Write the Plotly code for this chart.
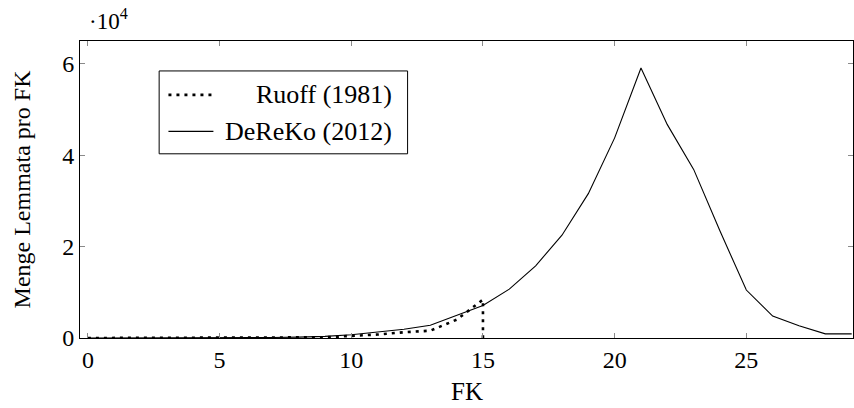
import plotly.graph_objects as go

# ---- data ----
fk = list(range(30))
dereko = [0, 0, 0, 0, 20, 40, 70, 120, 200, 350, 700, 1300, 1900, 2800, 4900,
          7100, 10700, 15800, 22500, 31600, 43800, 59100, 46700, 36900, 23400,
          10500, 4800, 2700, 900, 900]
ruoff_fk = list(range(16)) + [15]
ruoff = [0, 0, 0, 0, 0, 10, 20, 40, 80, 150, 450, 760, 1250, 1600, 4000, 8400, 0]

xticks = [0, 5, 10, 15, 20, 25]
yticks = [0, 20000, 40000, 60000]
yticklabels = ["0", "2", "4", "6"]

FONT = "Liberation Serif"
W, H = 854, 408
L, T = 79.5, 41
R = W - 853
B = H - 338.5

def px2paper_x(p):
    return (p - L) / (W - L - R)

def px2paper_y(p):
    return 1 - (p - T) / (H - T - B)

fig = go.Figure()
fig.add_trace(go.Scatter(x=ruoff_fk, y=ruoff, mode="lines", name="Ruoff (1981)",
                         line=dict(color="black", width=2.6, dash="3px,5px")))
fig.add_trace(go.Scatter(x=fk, y=dereko, mode="lines", name="DeReKo (2012)",
                         line=dict(color="black", width=1.1)))

axis_common = dict(showline=True, linecolor="black", linewidth=1, mirror="ticks",
                   ticks="inside", ticklen=5, tickcolor="#8a8a8a", tickwidth=1,
                   showgrid=False, zeroline=False,
                   tickfont=dict(family=FONT, size=24, color="black"))

fig.update_xaxes(range=[-0.3, 29.05], tickvals=xticks, **axis_common)
fig.update_yaxes(range=[0, 65000], tickvals=yticks, ticktext=yticklabels,
                 title=dict(text="Menge Lemmata pro FK", font=dict(family=FONT, size=24, color="black"), standoff=24),
                 **axis_common)

# x-axis title
fig.add_annotation(text="FK", xref="paper", yref="paper",
                   x=0.5, y=px2paper_y(392.5), xanchor="center", yanchor="middle",
                   showarrow=False, font=dict(family=FONT, size=25, color="black"))

# exponent label
fig.add_annotation(text="·10<sup>4</sup>", xref="paper", yref="paper",
                   x=px2paper_x(87), y=px2paper_y(36), xanchor="left", yanchor="bottom",
                   showarrow=False, font=dict(family=FONT, size=23, color="black"))

# manual legend (right-aligned text like the original)
bx0, bx1, by0, by1 = 158.7, 407.3, 71, 154
fig.add_shape(type="rect", xref="paper", yref="paper",
              x0=px2paper_x(bx0), x1=px2paper_x(bx1), y0=px2paper_y(by1), y1=px2paper_y(by0),
              line=dict(color="black", width=1), fillcolor="white", layer="above")
rows = [(95, "Ruoff (1981)", dict(color="black", width=2.6, dash="3px,5px")),
        (131.5, "DeReKo (2012)", dict(color="black", width=1.1))]
for ypx, label, ln in rows:
    fig.add_shape(type="line", xref="paper", yref="paper",
                  x0=px2paper_x(168), x1=px2paper_x(213), y0=px2paper_y(ypx), y1=px2paper_y(ypx),
                  line=ln, layer="above")
    fig.add_annotation(text=label, xref="paper", yref="paper",
                       x=px2paper_x(394), y=px2paper_y(ypx), xanchor="right", yanchor="middle",
                       showarrow=False, font=dict(family=FONT, size=26, color="black"))

fig.update_layout(width=W, height=H, showlegend=False,
                  margin=dict(l=L, r=R, t=T, b=B, autoexpand=False),
                  plot_bgcolor="white", paper_bgcolor="white",
                  font=dict(family=FONT, color="black"))

fig.write_html("out.html", config={"displayModeBar": False},
               post_script="document.body.style.margin='0';document.body.style.overflow='hidden';")
